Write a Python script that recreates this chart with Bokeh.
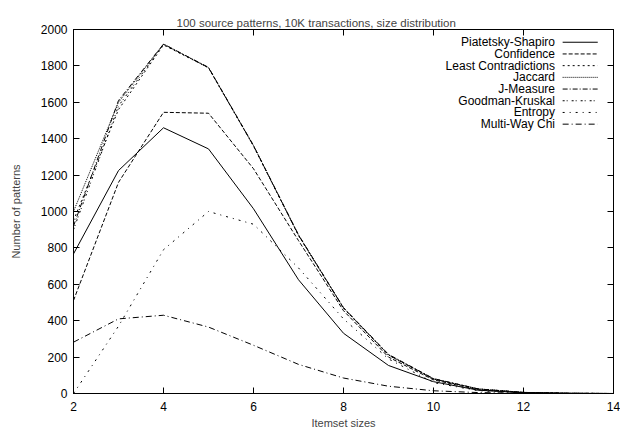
from bokeh.plotting import figure
from bokeh.models import LinearAxis, FixedTicker, Label
from bokeh.embed import file_html
from bokeh.resources import INLINE

sizes = [2, 3, 4, 5, 6, 7, 8, 9, 10, 11, 12, 13, 14]
piatetsky_shapiro = [767, 1225, 1460, 1344, 1015, 625, 331, 154, 65, 18, 4, 1, 0]
confidence = [511, 1160, 1545, 1540, 1235, 840, 455, 200, 75, 20, 5, 1, 0]
least_contradictions = [950, 1560, 1915, 1790, 1360, 870, 470, 212, 80, 25, 6, 1, 0]
jaccard = [1000, 1600, 1920, 1790, 1362, 870, 470, 212, 80, 25, 6, 1, 0]
j_measure = [920, 1610, 1920, 1792, 1363, 872, 472, 215, 82, 25, 6, 1, 0]
goodman_kruskal = [900, 1580, 1918, 1790, 1360, 868, 468, 210, 80, 24, 6, 1, 0]
entropy = [0, 370, 790, 1000, 930, 690, 410, 190, 60, 15, 3, 1, 0]
multi_way_chi = [282, 410, 430, 365, 265, 160, 85, 40, 15, 5, 2, 0, 0]

names = ["Piatetsky-Shapiro", "Confidence", "Least Contradictions", "Jaccard",
         "J-Measure", "Goodman-Kruskal", "Entropy", "Multi-Way Chi"]
series = [piatetsky_shapiro, confidence, least_contradictions, jaccard,
          j_measure, goodman_kruskal, entropy, multi_way_chi]
dashes = ["solid", "4 2", "2 3", "1 1", "5 2 1 2", "2 2 1 4", "2 5 1 5", "6 3 1 3"]

x_ticks = [2, 4, 6, 8, 10, 12, 14]
y_ticks = [0, 200, 400, 600, 800, 1000, 1200, 1400, 1600, 1800, 2000]
title_text = "100 source patterns, 10K transactions, size distribution"

FONT = "Liberation Sans"

p = figure(width=620, height=434, x_range=(2, 14), y_range=(0, 2000),
           output_backend="svg", toolbar_location=None,
           min_border_left=73, min_border_right=7, min_border_top=29, min_border_bottom=41,
           x_axis_label="Itemset sizes", y_axis_label="Number of patterns")
p.title.text = title_text
p.title.align = "left"
p.title.offset = 103
p.title.vertical_align = "middle"
p.title.standoff = 0
p.title.text_font = FONT
p.title.text_font_size = "11.5px"
p.title.text_font_style = "normal"
p.grid.visible = False
p.outline_line_color = "black"
p.outline_line_width = 1
p.background_fill_color = "white"
p.border_fill_color = "white"

for ax in [p.xaxis[0], p.yaxis[0]]:
    ax.major_tick_in = 6
    ax.major_tick_out = 0
    ax.minor_tick_line_color = None
    ax.major_label_text_font = FONT
    ax.major_label_text_font_size = "12px"
    ax.major_label_text_color = "black"
    ax.axis_label_text_font = FONT
    ax.axis_label_text_font_size = "11px"
    ax.axis_label_text_font_style = "normal"
    ax.axis_line_color = "black"
p.xaxis[0].ticker = FixedTicker(ticks=x_ticks)
p.yaxis[0].ticker = FixedTicker(ticks=y_ticks)
p.xaxis[0].major_label_standoff = 8
p.yaxis[0].major_label_standoff = 6
p.xaxis[0].axis_label_standoff = 3
p.yaxis[0].axis_label_standoff = 16

top = LinearAxis(ticker=FixedTicker(ticks=x_ticks), major_tick_in=6, major_tick_out=0,
                 minor_tick_line_color=None, major_label_standoff=10,
                 major_label_overrides={t: "" for t in x_ticks})
right = LinearAxis(ticker=FixedTicker(ticks=y_ticks), major_tick_in=6, major_tick_out=0,
                   minor_tick_line_color=None, major_label_standoff=0,
                   major_label_overrides={t: "" for t in y_ticks})
p.add_layout(top, "above")
p.add_layout(right, "right")

for ys, dash in zip(series, dashes):
    p.line(sizes, ys, line_color="black", line_width=1, line_dash=dash)

# legend (gnuplot style: label right-aligned, sample to the right)
leg_x_text = 12.7
leg_x0, leg_x1 = 12.87, 13.65
leg_y0, leg_dy = 1930, 64.3
for i, (name, dash) in enumerate(zip(names, dashes)):
    yy = leg_y0 - i * leg_dy
    p.line([leg_x0, leg_x1], [yy, yy], line_color="black", line_width=1, line_dash=dash)
    p.add_layout(Label(x=leg_x_text, y=yy, text=name, text_align="right",
                       text_baseline="middle", text_font=FONT, text_font_size="12px",
                       text_color="black"))

open("out.html", "w").write(file_html(p, INLINE))
